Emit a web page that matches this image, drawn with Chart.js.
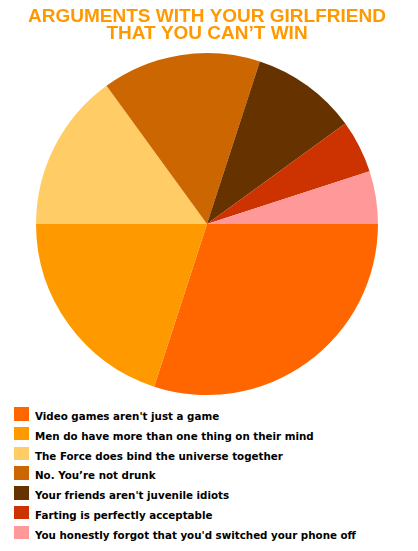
<!DOCTYPE html>
<html>
<head>
<meta charset="utf-8">
<script src="https://cdn.jsdelivr.net/npm/chart.js@4"></script>
<style>
  body { margin: 0; background: #fff; }
  #wrap { position: relative; width: 418px; height: 551px; }
  #pie { position: absolute; left: 0; top: 0; }
  #legend { position: absolute; left: 14px; top: 407px; font: bold 10.3px "DejaVu Sans", sans-serif; color: #000; }
  .row { height: 19.8px; display: flex; align-items: flex-start; }
  .box { width: 15px; height: 13.5px; margin-right: 6px; flex: none; }
  .txt { line-height: 14px; padding-top: 2px; white-space: nowrap; }
</style>
</head>
<body>
<div id="wrap">
  <canvas id="pie" width="402" height="395"></canvas>
  <div id="legend"></div>
</div>
<script>
const titleLines = ['ARGUMENTS WITH YOUR GIRLFRIEND', 'THAT YOU CAN\u2019T WIN'];
const categories = [
  "Video games aren't just a game",
  'Men do have more than one thing on their mind',
  'The Force does bind the universe together',
  'No. You\u2019re not drunk',
  "Your friends aren't juvenile idiots",
  'Farting is perfectly acceptable',
  "You honestly forgot that you'd switched your phone off"
];
const shares = [30, 20, 15, 15, 10, 5, 5];
const colors = ['#FF6600', '#FF9900', '#FFCC66', '#CC6600', '#663300', '#CC3300', '#FF9999'];

const chart = new Chart(document.getElementById('pie'), {
  type: 'pie',
  data: {
    labels: categories,
    datasets: [{ data: shares, backgroundColor: colors, borderWidth: 0 }]
  },
  options: {
    responsive: false,
    animation: false,
    rotation: 90,
    layout: { padding: { left: 12, right: 0, top: 0, bottom: 0 } },
    plugins: {
      legend: { display: false },
      tooltip: { enabled: false },
      title: {
        display: true,
        text: titleLines,
        color: '#FF9900',
        font: { family: 'Liberation Sans', size: 19, weight: 'bold', lineHeight: 0.87 },
        padding: { top: 9, bottom: 11 }
      }
    }
  }
});

// legend rows from the chart's own legend items
const items = Chart.overrides.pie.plugins.legend.labels.generateLabels(chart);
const leg = document.getElementById('legend');
items.forEach(it => {
  const row = document.createElement('div'); row.className = 'row';
  const b = document.createElement('div'); b.className = 'box'; b.style.background = it.fillStyle;
  const t = document.createElement('div'); t.className = 'txt'; t.textContent = it.text;
  row.append(b, t);
  leg.append(row);
});
</script>
</body>
</html>
